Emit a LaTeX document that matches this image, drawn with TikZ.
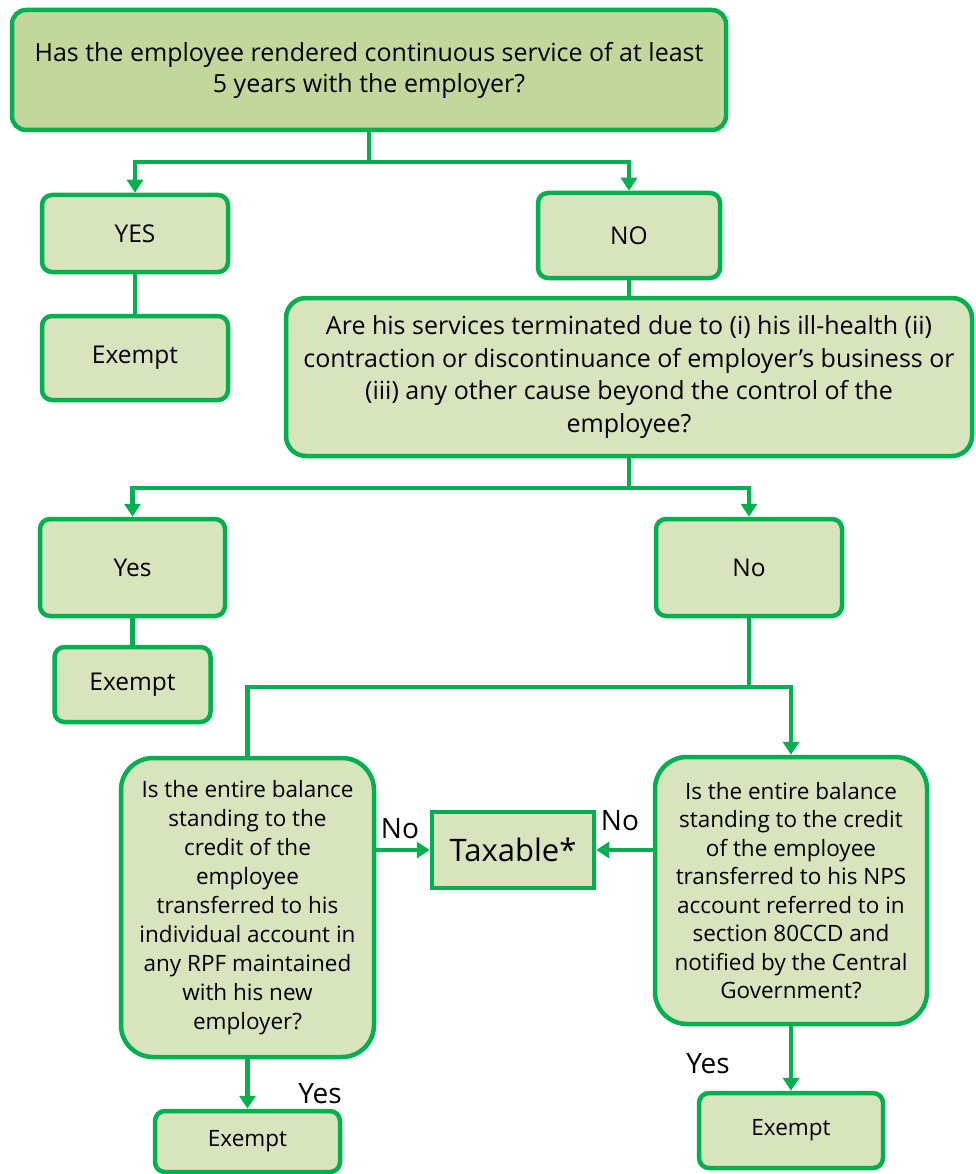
\documentclass[tikz,border=0pt]{standalone}
\usepackage{fontspec}
\setmainfont{Open Sans}
\usetikzlibrary{arrows.meta}
\definecolor{gline}{HTML}{00B050}
\definecolor{gfill}{HTML}{D7E4BD}
\definecolor{gtop}{HTML}{C3D69B}
\tikzset{
  box/.style={draw=gline, fill=gfill, line width=4.5pt, rounded corners=10pt, align=center, inner sep=0pt},
  conn/.style={draw=gline, line width=4.5pt},
  arr/.style={conn, -{Triangle[width=16pt,length=13pt]}},
  lbl/.style={inner sep=0pt, font=\fontsize{28}{32}\selectfont},
}
\begin{document}
\begin{tikzpicture}[x=1pt,y=-1pt]
\useasboundingbox (0,0) rectangle (976,1174);
% boxes
\node[box, fill=gtop, rounded corners=14pt, minimum width=714pt, minimum height=120pt, font=\fontsize{25}{31}\selectfont] (top) at (369,70)
  {Has the employee rendered continuous service of at least\\5 years with the employer?};
\node[box, minimum width=186pt, minimum height=77pt, font=\fontsize{24.5}{28}\selectfont] (yes1) at (135,233.5) {YES};
\node[box, minimum width=186pt, minimum height=84pt, font=\fontsize{24.5}{28}\selectfont] (ex1) at (135,358) {Exempt};
\node[box, minimum width=182pt, minimum height=85pt, font=\fontsize{24.5}{28}\selectfont] (no1) at (629,235.5) {NO};
\node[box, rounded corners=20pt, minimum width=686pt, minimum height=158pt, font=\fontsize{25}{32.5}\selectfont] (q2) at (629,377)
  {Are his services terminated due to (i) his ill-health (ii)\\contraction or discontinuance of employer’s business or\\(iii) any other cause beyond the control of the\\employee?};
\node[box, minimum width=185pt, minimum height=97pt, font=\fontsize{24.5}{28}\selectfont] (yes2) at (132.5,567.5) {Yes};
\node[box, minimum width=156pt, minimum height=75pt, font=\fontsize{24.5}{28}\selectfont] (ex2) at (132.5,684.5) {Exempt};
\node[box, minimum width=186pt, minimum height=97pt, font=\fontsize{24.5}{28}\selectfont] (no2) at (749,567.5) {No};
\node[box, rounded corners=32pt, minimum width=253pt, minimum height=299pt, font=\fontsize{22.5}{29}\selectfont] (lq) at (247.5,907.5)
  {Is the entire balance\\standing to the\\credit of the\\employee\\transferred to his\\individual account in\\any RPF maintained\\with his new\\employer?};
\node[box, rounded corners=0pt, minimum width=162pt, minimum height=76pt, font=\fontsize{31}{34}\selectfont] (tax) at (513,850) {Taxable*};
\node[box, rounded corners=32pt, minimum width=272pt, minimum height=267pt, font=\fontsize{22.5}{28.5}\selectfont] (rq) at (791,890.5)
  {Is the entire balance\\standing to the credit\\of the employee\\transferred to his NPS\\account referred to in\\section 80CCD and\\notified by the Central\\Government?};
\node[box, minimum width=185pt, minimum height=61pt, font=\fontsize{22.5}{26}\selectfont] (ex3) at (247.5,1141.5) {Exempt};
\node[box, minimum width=184pt, minimum height=75pt, font=\fontsize{22.5}{26}\selectfont] (ex4) at (791,1130.5) {Exempt};
% connectors
\coordinate (j1) at (369,162);
\draw[conn] (top.south) -- (j1);
\draw[arr] (j1) -| (yes1.north);
\draw[arr] (j1) -| (no1.north);
\draw[conn] (yes1.south) -- (ex1.north);
\draw[conn] (no1.south) -- (no1.south |- q2.north);
\coordinate (j2) at (629,488);
\draw[conn] (q2.south) -- (j2);
\draw[arr] (j2) -| (yes2.north);
\draw[arr] (j2) -| (no2.north);
\draw[conn] (yes2.south) -- (ex2.north);
\coordinate (j3) at (749,687);
\draw[conn] (no2.south) -- (j3);
\draw[conn] (j3) -| (lq.north);
\draw[arr] (j3) -| (rq.north);
\draw[arr] (lq.east |- tax.west) -- (tax.west);
\draw[arr] (rq.west |- tax.east) -- (tax.east);
\draw[arr] (lq.south) -- (ex3.north);
\draw[arr] (rq.south) -- (ex4.north);
% labels
\node[lbl] (lno) at (400,829) {No};
\node[lbl] (rno) at (620,821) {No};
\node[lbl] (lyes) at (320,1094) {Yes};
\node[lbl] (ryes) at (708,1064) {Yes};
\end{tikzpicture}
\end{document}
